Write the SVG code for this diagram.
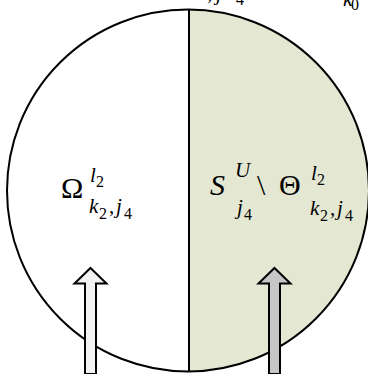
<svg xmlns="http://www.w3.org/2000/svg" width="368" height="374" viewBox="0 0 368 374">
<style>
text{font-family:Times New Roman,serif;fill:#000}
.it{font-style:italic}
.m{font-size:30px}
.s{font-size:21px}
.ss{font-size:16px}
.outline{stroke:#000;stroke-width:2;stroke-linejoin:miter}
</style>
<defs>
<clipPath id="right"><rect x="189" y="0" width="200" height="380"/></clipPath>
<path id="arrow" d="M0,0 L16,15.5 L5.5,15.5 L5.5,106 L-5.5,106 L-5.5,15.5 L-16,15.5 Z"/>
</defs>
<g id="circle">
<circle cx="188" cy="190.5" r="181" fill="#fff"/>
<circle cx="188" cy="190.5" r="181" fill="#e4e7d2" clip-path="url(#right)"/>
<circle cx="188" cy="190.5" r="181" fill="none" stroke="#000" stroke-width="2"/>
<line x1="189" y1="9.5" x2="189" y2="372" stroke="#000" stroke-width="2"/>
</g>
<g id="fragments">
<text class="s" x="207" y="-0.5">,</text>
<text class="s it" x="216" y="-0.5">j</text>
<text class="ss" x="236" y="5">4</text>
<text class="s it" x="343" y="6">k</text>
<text class="ss" x="351" y="10">0</text>
</g>
<g id="label-left">
<text class="m" x="61" y="198">Ω</text>
<text class="s it" x="90" y="182">l</text>
<text class="ss" x="96" y="187">2</text>
<text class="s it" x="89" y="213">k</text>
<text class="ss" x="99" y="219">2</text>
<text class="s" x="109" y="213">,</text>
<text class="s it" x="116" y="213">j</text>
<text class="ss" x="124" y="219">4</text>
</g>
<g id="label-right">
<text class="m it" x="210" y="195">S</text>
<text class="s it" x="235" y="177">U</text>
<text class="s it" x="237" y="214">j</text>
<text class="ss" x="244" y="220">4</text>
<text class="m" x="257" y="195">\</text>
<text class="m" x="279" y="195">Θ</text>
<text class="s it" x="311" y="180">l</text>
<text class="ss" x="317" y="185">2</text>
<text class="s it" x="310" y="215">k</text>
<text class="ss" x="320" y="221">2</text>
<text class="s" x="330" y="215">,</text>
<text class="s it" x="337" y="215">j</text>
<text class="ss" x="345" y="221">4</text>
</g>
<g id="arrow-left">
<use href="#arrow" x="90.5" y="268" fill="#f2f2f2" class="outline"/>
</g>
<g id="arrow-right">
<use href="#arrow" x="274.5" y="268" fill="#c6c6c6" class="outline"/>
</g>
</svg>
